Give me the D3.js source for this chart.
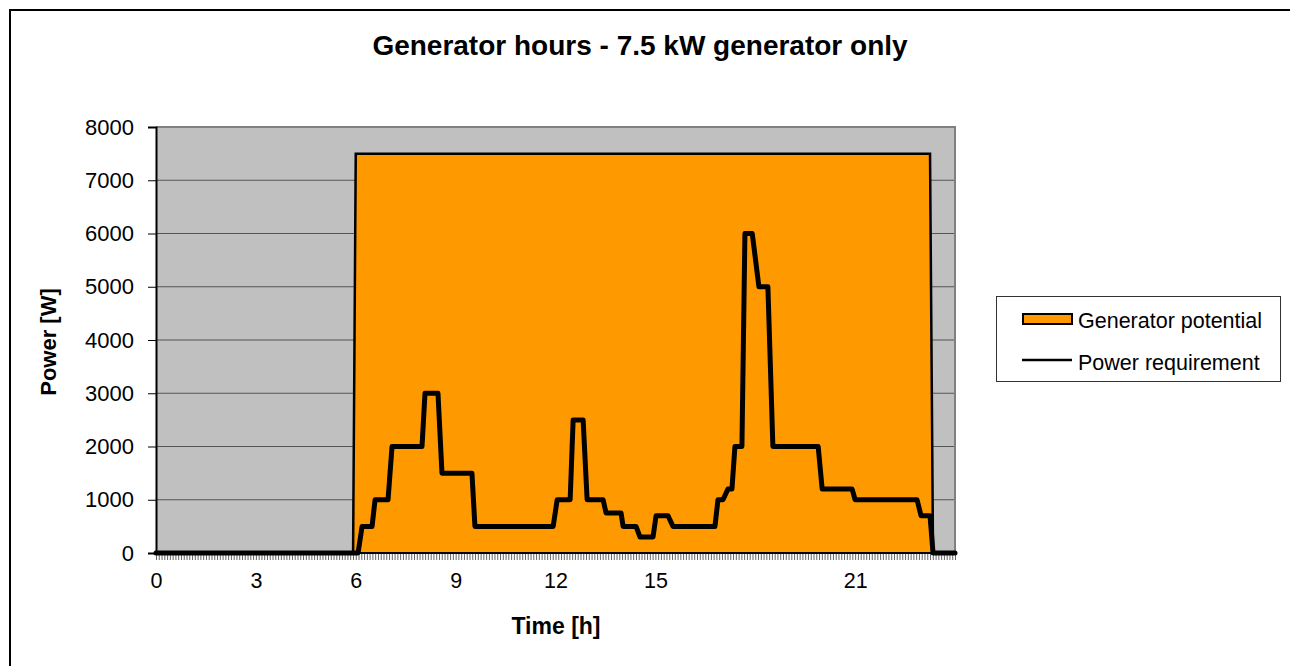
<!DOCTYPE html>
<html>
<head>
<meta charset="utf-8">
<script src="https://cdn.jsdelivr.net/npm/d3@7"></script>
<style>
  html, body { margin: 0; padding: 0; background: #fff; }
  svg { display: block; font-family: "Liberation Sans", Arial, sans-serif; }
</style>
</head>
<body>
<svg id="chart" width="1290" height="666"></svg>
<script>
// ---- data ----
const chartTitle = "Generator hours - 7.5 kW generator only";
const xTitle = "Time [h]";
const yTitle = "Power [W]";
const seriesNames = ["Generator potential", "Power requirement"];

// Generator potential (hours, watts)
const genHours = [0, 5.92, 6.0, 23.25, 23.34, 24];
const genWatts = [0, 0, 7500, 7500, 0, 0];

// Power requirement breakpoints (hours, watts)
const reqHours = [0, 6.07, 6.19, 6.49, 6.58, 6.97, 7.09, 7.99, 8.08, 8.47, 8.59, 9.49, 9.58,
  11.93, 12.05, 12.44, 12.53, 12.83, 12.95, 13.43, 13.52, 13.97, 14.03, 14.42, 14.54,
  14.93, 15.02, 15.38, 15.53, 16.79, 16.88, 17.03, 17.18, 17.30, 17.39, 17.60, 17.69,
  17.91, 18.11, 18.38, 18.53, 19.89, 20.01, 20.91, 21.00, 22.86, 22.98, 23.25, 23.34, 24];
const reqWatts = [0, 0, 500, 500, 1000, 1000, 2000, 2000, 3000, 3000, 1500, 1500, 500,
  500, 1000, 1000, 2500, 2500, 1000, 1000, 750, 750, 500, 500, 300,
  300, 700, 700, 500, 500, 1000, 1000, 1200, 1200, 2000, 2000, 6000,
  6000, 5000, 5000, 2000, 2000, 1200, 1200, 1000, 1000, 700, 700, 0, 0];

const xTickLabels = [0, 3, 6, 9, 12, 15, 21];
const yTicks = [0, 1000, 2000, 3000, 4000, 5000, 6000, 7000, 8000];

// ---- layout ----
const svg = d3.select("#chart");
const plot = { left: 156, right: 955, top: 127, bottom: 553 };

const x = d3.scaleLinear().domain([0, 24]).range([plot.left, plot.right]);
const y = d3.scaleLinear().domain([0, 8000]).range([plot.bottom, plot.top]);

// outer chart border
svg.append("rect").attr("x", 10).attr("y", 10).attr("width", 1400).attr("height", 800)
  .attr("fill", "#fff").attr("stroke", "#000").attr("stroke-width", 2);

// title
svg.append("text").attr("x", 640).attr("y", 55).attr("text-anchor", "middle")
  .attr("font-size", 28).attr("font-weight", "bold").text(chartTitle);

// plot background
svg.append("rect").attr("x", plot.left).attr("y", plot.top)
  .attr("width", plot.right - plot.left).attr("height", plot.bottom - plot.top)
  .attr("fill", "#C0C0C0");

// gridlines
svg.append("g").selectAll("line").data(yTicks.filter(d => d > 0 && d < 8000)).join("line")
  .attr("x1", plot.left).attr("x2", plot.right)
  .attr("y1", d => y(d)).attr("y2", d => y(d))
  .attr("stroke", "#555").attr("stroke-width", 1);

// plot border top/right
svg.append("path")
  .attr("d", `M${plot.left},${plot.top}H${plot.right}V${plot.bottom}`)
  .attr("fill", "none").attr("stroke", "#808080").attr("stroke-width", 2);

// generator area
const genData = genHours.map((h, i) => [h, genWatts[i]]);
svg.append("path").datum(genData)
  .attr("d", d3.area().x(d => x(d[0])).y0(y(0)).y1(d => y(d[1])))
  .attr("fill", "#FF9900").attr("stroke", "none");
svg.append("path").datum(genData)
  .attr("d", d3.line().x(d => x(d[0])).y(d => y(d[1])))
  .attr("fill", "none").attr("stroke", "#000").attr("stroke-width", 2.5);

// x axis minor ticks (every 5 minutes)
const minorTicks = d3.range(0, 24 + 1e-6, 1 / 12);
svg.append("g").attr("transform", `translate(0,${plot.bottom})`)
  .call(d3.axisBottom(x).tickValues(minorTicks).tickSize(7).tickFormat(""))
  .call(g => g.select(".domain").remove())
  .call(g => g.selectAll(".tick line").attr("stroke", "#666").attr("stroke-width", 1));

// x tick labels
svg.append("g").attr("transform", `translate(0,${plot.bottom})`)
  .call(d3.axisBottom(x).tickValues(xTickLabels).tickSize(0).tickPadding(20).tickFormat(d3.format("d")))
  .call(g => g.select(".domain").remove())
  .call(g => g.selectAll(".tick text").attr("font-size", 21.5).attr("fill", "#000")
    .attr("font-family", "Liberation Sans, Arial, sans-serif"));

// y axis
svg.append("g").attr("transform", `translate(${plot.left},0)`)
  .call(d3.axisLeft(y).tickValues(yTicks).tickSize(8).tickPadding(14).tickFormat(d3.format("d")))
  .call(g => g.select(".domain").attr("stroke", "#000").attr("stroke-width", 2))
  .call(g => g.selectAll(".tick line").attr("stroke", "#000").attr("stroke-width", 1))
  .call(g => g.selectAll(".tick text").attr("font-size", 22).attr("fill", "#000")
    .attr("font-family", "Liberation Sans, Arial, sans-serif"));

// x axis line
svg.append("line").attr("x1", plot.left).attr("x2", plot.right)
  .attr("y1", plot.bottom).attr("y2", plot.bottom)
  .attr("stroke", "#000").attr("stroke-width", 2);

// power requirement line
const reqData = reqHours.map((h, i) => [h, reqWatts[i]]);
svg.append("path").datum(reqData)
  .attr("d", d3.line().x(d => x(d[0])).y(d => y(d[1])))
  .attr("fill", "none").attr("stroke", "#000").attr("stroke-width", 5)
  .attr("stroke-linejoin", "round").attr("stroke-linecap", "round");

// axis titles
svg.append("text").attr("x", 556).attr("y", 634).attr("text-anchor", "middle")
  .attr("font-size", 23).attr("font-weight", "bold").text(xTitle);
svg.append("text").attr("transform", "translate(56,342) rotate(-90)").attr("text-anchor", "middle")
  .attr("font-size", 22).attr("font-weight", "bold").text(yTitle);

// legend
const lg = svg.append("g");
lg.append("rect").attr("x", 996.5).attr("y", 296.5).attr("width", 284).attr("height", 85)
  .attr("fill", "#fff").attr("stroke", "#333").attr("stroke-width", 1);
lg.append("rect").attr("x", 1023).attr("y", 314).attr("width", 49).attr("height", 10)
  .attr("fill", "#FF9900").attr("stroke", "#000").attr("stroke-width", 2);
lg.append("text").attr("x", 1078).attr("y", 320).attr("dy", "0.35em")
  .attr("font-size", 21.5).text(seriesNames[0]);
lg.append("line").attr("x1", 1022).attr("x2", 1072).attr("y1", 360).attr("y2", 360)
  .attr("stroke", "#000").attr("stroke-width", 2.5);
lg.append("text").attr("x", 1078).attr("y", 362).attr("dy", "0.35em")
  .attr("font-size", 21.5).text(seriesNames[1]);
</script>
</body>
</html>
